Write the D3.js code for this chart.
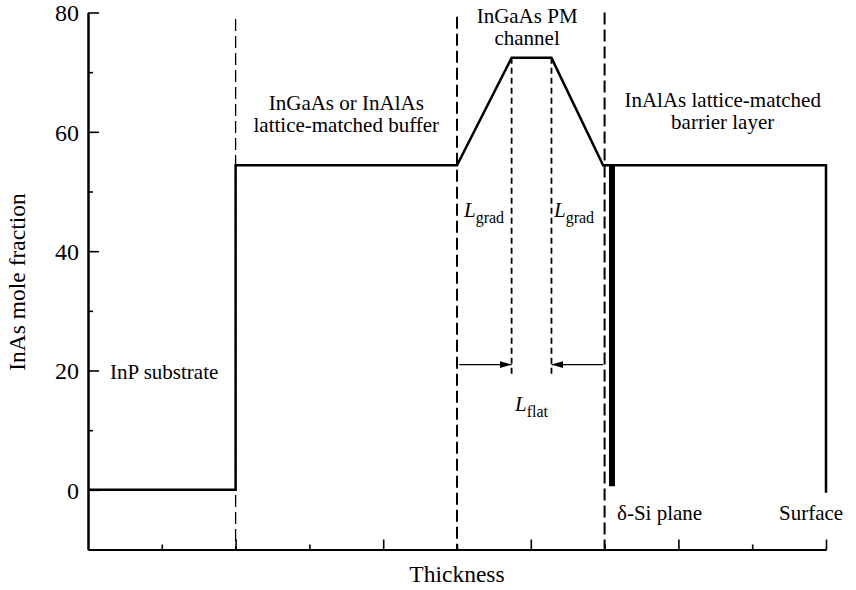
<!DOCTYPE html>
<html>
<head>
<meta charset="utf-8">
<script src="https://cdn.jsdelivr.net/npm/d3@7"></script>
<style>
  body { margin: 0; background: #fff; }
</style>
</head>
<body>
<div id="chart"></div>
<script>
// Chart Params
var svgWidth = 856;
var svgHeight = 590;
var serif = "'Liberation Serif', 'Times New Roman', serif";

// InAs mole fraction profile through the layer stack (thickness in arbitrary units)
var profileX = [0, 2, 2, 5, 5.74, 6.28, 6.98, 10, 10];
var profileY = [0, 0, 54.4, 54.4, 72.4, 72.4, 54.4, 54.4, -0.5];

// layer boundaries (dashed) and the edges of the flat channel part
var boundaryX = [2, 5, 7];
var boundaryTop = [78.9, 79.3, 80];
var flatEdgeX = [5.74, 6.28];
var flatEdgeBottom = 19;

// delta doping plane
var deltaX = 7.1;
var deltaRange = [0.6, 54.4];

// L_flat arrows: [from, to] along x, at arrowY
var arrowFrom = [5.03, 6.98];
var arrowTo = [5.74, 6.28];
var arrowY = 21;

// axis ticks
var yMajorTicks = [0, 20, 40, 60, 80];
var yMinorTicks = [10, 30, 50, 70];
var xMajorTicks = [2, 4, 6, 8, 10];
var xMinorTicks = [1, 3, 5, 7, 9];

var svg = d3
  .select("#chart")
  .append("svg")
  .attr("width", svgWidth)
  .attr("height", svgHeight)
  .attr("font-family", serif);

var x = d3.scaleLinear().domain([0, 10]).range([88, 826]);
var y = d3.scaleLinear().domain([-10, 80]).range([549.5, 12.5]);

// marker for the arrows
svg.append("defs").append("marker")
  .attr("id", "arrowhead")
  .attr("viewBox", "0 0 12 8")
  .attr("refX", 12)
  .attr("refY", 4)
  .attr("markerWidth", 12)
  .attr("markerHeight", 8)
  .attr("markerUnits", "userSpaceOnUse")
  .attr("orient", "auto")
  .append("path")
  .attr("d", "M0,0.5 L12,4 L0,7.5 Z")
  .attr("fill", "#000");

// dashed layer boundaries
svg.selectAll(".boundary").data(boundaryX)
  .enter()
  .append("line")
  .attr("class", "boundary")
  .attr("x1", d => x(d))
  .attr("x2", d => x(d))
  .attr("y1", (d, i) => y(boundaryTop[i]))
  .attr("y2", y(-10))
  .attr("stroke", "#000")
  .attr("stroke-width", (d, i) => i == 0 ? 1.3 : 2)
  .attr("stroke-dasharray", "12,5");

// short dashed lines at the flat part of the channel
svg.selectAll(".flatedge").data(flatEdgeX)
  .enter()
  .append("line")
  .attr("class", "flatedge")
  .attr("x1", d => x(d))
  .attr("x2", d => x(d))
  .attr("y1", y(72.4))
  .attr("y2", y(flatEdgeBottom))
  .attr("stroke", "#000")
  .attr("stroke-width", 1.8)
  .attr("stroke-dasharray", "6,4");

// arrows
svg.selectAll(".arrow").data(arrowFrom)
  .enter()
  .append("line")
  .attr("class", "arrow")
  .attr("x1", d => x(d))
  .attr("x2", (d, i) => x(arrowTo[i]))
  .attr("y1", y(arrowY))
  .attr("y2", y(arrowY))
  .attr("stroke", "#000")
  .attr("stroke-width", 1.2)
  .attr("marker-end", "url(#arrowhead)");

// the profile
var line = d3.line()
  .x((d, i) => x(profileX[i]))
  .y(d => y(d));

svg.append("path")
  .datum(profileY)
  .attr("d", line)
  .attr("fill", "none")
  .attr("stroke", "#000")
  .attr("stroke-width", 2.5)
  .attr("stroke-linejoin", "miter");

// delta-Si plane
svg.append("line")
  .attr("x1", x(deltaX))
  .attr("x2", x(deltaX))
  .attr("y1", y(deltaRange[0]))
  .attr("y2", y(deltaRange[1]))
  .attr("stroke", "#000")
  .attr("stroke-width", 6);

// axes, ticks point inwards
var yAxis = d3.axisLeft(y).tickValues(yMajorTicks).tickSize(-11).tickSizeOuter(0).tickPadding(9);
var yAxisMinor = d3.axisLeft(y).tickValues(yMinorTicks).tickSize(-5).tickSizeOuter(0).tickFormat("");
var xAxis = d3.axisBottom(x).tickValues(xMajorTicks).tickSize(-10).tickSizeOuter(0).tickFormat("");
var xAxisMinor = d3.axisBottom(x).tickValues(xMinorTicks).tickSize(-5).tickSizeOuter(0).tickFormat("");

var gy = svg.append("g").attr("transform", `translate(${x(0)},0)`).call(yAxis);
svg.append("g").attr("transform", `translate(${x(0)},0)`).call(yAxisMinor);
svg.append("g").attr("transform", `translate(0,${y(-10)})`).call(xAxis);
svg.append("g").attr("transform", `translate(0,${y(-10)})`).call(xAxisMinor);

svg.selectAll(".domain").attr("stroke", "#000").attr("stroke-width", 2);
svg.selectAll(".tick line").attr("stroke", "#000").attr("stroke-width", 1.6);
gy.selectAll(".tick text")
  .style("font-family", serif)
  .style("font-size", "24px")
  .attr("fill", "#000")
  .attr("dy", "0.34em");

// every text element gets the serif face explicitly
function addText(px, py, size) {
  return svg.append("text")
    .attr("x", px)
    .attr("y", py)
    .attr("fill", "#000")
    .style("font-family", serif)
    .style("font-size", size + "px");
}

// axis titles
addText(x(5), 582, 23.5)
  .attr("text-anchor", "middle")
  .text("Thickness");

addText(-282, 25, 23.5)
  .attr("transform", "rotate(-90)")
  .attr("text-anchor", "middle")
  .text("InAs mole fraction");

// layer labels
function multiLabel(lines, cx, top) {
  lines.forEach(function(t, i) {
    addText(cx, top + i * 22, 21)
      .attr("text-anchor", "middle")
      .text(t);
  });
}
multiLabel(["InGaAs or InAlAs", "lattice-matched buffer"], x(3.5), 110);
multiLabel(["InGaAs PM", "channel"], x(5.95), 22.5);
multiLabel(["InAlAs lattice-matched", "barrier layer"], x(8.6), 107);

addText(110, 379, 21).text("InP substrate");
addText(617, 520, 21).text("δ-Si plane");
addText(779, 520, 21).text("Surface");

// L labels with subscripts
function lLabel(sub, px, py) {
  var t = addText(px, py, 21);
  t.append("tspan").style("font-style", "italic").text("L");
  t.append("tspan").attr("dy", 6).style("font-size", "16px").text(sub);
}
lLabel("grad", 464, 217);
lLabel("grad", 554, 217);
lLabel("flat", 515, 411);
</script>
</body>
</html>
